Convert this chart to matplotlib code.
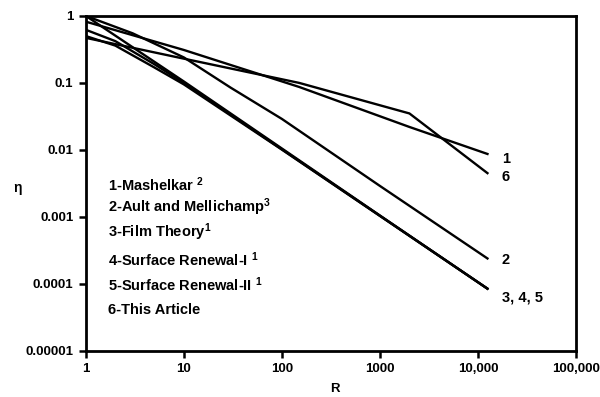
import numpy as np
import matplotlib.pyplot as plt

plt.rcParams['font.family'] = ['Liberation Sans', 'DejaVu Sans']
plt.rcParams['font.weight'] = 'bold'
plt.rcParams['mathtext.fontset'] = 'custom'
plt.rcParams['mathtext.rm'] = 'Liberation Sans:bold'
plt.rcParams['mathtext.default'] = 'rm'

# curve data (R, eta)
r_1 = [1, 10, 150, 2000, 12500]
eta_1 = [0.82, 0.31, 0.087, 0.022, 0.0087]

r_2 = [1, 3, 10, 30, 100, 1000, 12500]
eta_2 = [1.0, 0.55, 0.24, 0.085, 0.029, 0.0029, 0.00024]

r_3 = [1, 10, 100, 1000, 12500]
eta_3 = [1.0, 0.105, 0.0105, 0.00105, 0.000085]

r_4 = [1, 2, 5, 10, 100, 12500]
eta_4 = [0.62, 0.42, 0.19, 0.1, 0.0102, 0.000085]

r_5 = [1, 2, 5, 10, 100, 12500]
eta_5 = [0.5, 0.36, 0.17, 0.095, 0.0101, 0.000085]

r_6 = [1, 10, 150, 2000, 12500]
eta_6 = [0.47, 0.23, 0.1, 0.035, 0.0045]

legend_lines = [r'1-Mashelkar $^{2}$', r'2-Ault and Mellichamp$^{3}$',
                r'3-Film Theory$^{1}$', r'4-Surface Renewal-I $^{1}$',
                r'5-Surface Renewal-II $^{1}$', '6-This Article']
legend_eta = [0.0030, 0.0014, 0.0006, 0.00023, 0.000097, 0.000041]

end_labels = ['1', '6', '2', '3, 4, 5']
end_eta = [0.0072, 0.0039, 0.00023, 0.000062]

xticks = [1, 10, 100, 1000, 10000, 100000]
xtick_labels = ['1', '10', '100', '1000', '10,000', '100,000']
yticks = [1, 0.1, 0.01, 0.001, 0.0001, 0.00001]
ytick_labels = ['1', '0.1', '0.01', '0.001', '0.0001', '0.00001']

fig = plt.figure(figsize=(6, 3.97), dpi=100)
ax = fig.add_axes([0.143, 0.116, 0.817, 0.844])

for r, eta in [(r_1, eta_1), (r_2, eta_2), (r_3, eta_3),
               (r_4, eta_4), (r_5, eta_5), (r_6, eta_6)]:
    ax.plot(r, eta, color='black', linewidth=1.7)

ax.set_xscale('log')
ax.set_yscale('log')
ax.set_xlim(1, 100000)
ax.set_ylim(0.00001, 1)

ax.set_xticks(xticks)
ax.set_xticklabels(xtick_labels)
ax.set_yticks(yticks)
ax.set_yticklabels(ytick_labels)
ax.minorticks_off()
ax.tick_params(direction='out', length=5, width=1.8, labelsize=9.5, pad=4)

for s in ax.spines.values():
    s.set_linewidth(2)

for txt, e in zip(legend_lines, legend_eta):
    ax.text(1.7, e, txt, fontsize=10.5, va='center', ha='left')

for txt, e in zip(end_labels, end_eta):
    ax.text(17500, e, txt, fontsize=10.5, va='center', ha='left')

# axis titles placed in figure coords (R sits very low in the original)
fig.text(0.558, 0.02, 'R', fontsize=9.5, ha='center', va='center')
fig.text(0.03, 0.527, 'η', fontsize=10, ha='center', va='center')

fig.savefig('out.png', dpi=100)
